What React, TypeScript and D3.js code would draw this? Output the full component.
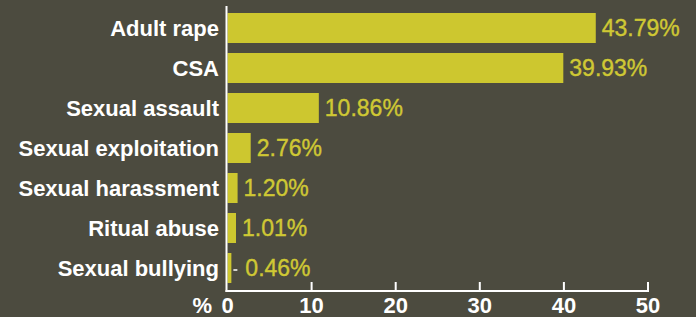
import React, { useRef, useEffect } from "react";
import * as d3 from "d3";

// data
const categories = [
  "Adult rape",
  "CSA",
  "Sexual assault",
  "Sexual exploitation",
  "Sexual harassment",
  "Ritual abuse",
  "Sexual bullying",
];
const values = [43.79, 39.93, 10.86, 2.76, 1.2, 1.01, 0.46];
const xTicks = [0, 10, 20, 30, 40, 50];

const App = () => {
  const svgRef = useRef<SVGSVGElement>(null);

  useEffect(() => {
    const width = 696;
    const height = 317;
    const svg = d3.select(svgRef.current);
    svg.selectAll("*").remove();
    svg.attr("width", width).attr("height", height);

    const font = "'Liberation Sans', Arial, Helvetica, sans-serif";

    svg
      .append("rect")
      .attr("width", width)
      .attr("height", height)
      .attr("fill", "#4c4b3f");

    const x = d3.scaleLinear().domain([0, 50]).range([227.5, 648]);
    const y = d3
      .scaleBand()
      .domain(categories)
      .range([8, 288])
      .paddingInner(0.25)
      .paddingOuter(0.125);

    const axisY = 291;

    // bars
    svg
      .selectAll(".bar")
      .data(values)
      .enter()
      .append("rect")
      .attr("class", "bar")
      .attr("x", x(0))
      .attr("y", (d, i) => y(categories[i])!)
      .attr("width", (d) => x(d) - x(0))
      .attr("height", y.bandwidth())
      .attr("fill", "#cdc72f");

    // small leader for the tiniest bar
    svg
      .selectAll(".lead")
      .data(values.filter((d) => d < 1))
      .enter()
      .append("line")
      .attr("x1", (d) => x(d) + 2)
      .attr("x2", (d) => x(d) + 6)
      .attr("y1", (d) => y(categories[values.indexOf(d)])! + y.bandwidth() / 2 + 2)
      .attr("y2", (d) => y(categories[values.indexOf(d)])! + y.bandwidth() / 2 + 2)
      .attr("stroke", "#ffffff")
      .attr("stroke-width", 1.5);

    // value labels
    svg
      .selectAll(".val")
      .data(values)
      .enter()
      .append("text")
      .attr("x", (d) => x(d) + (d < 1 ? 14 : 6))
      .attr("y", (d, i) => y(categories[i])! + y.bandwidth() / 2 + 8)
      .attr("fill", "#cfc834")
      .attr("font-family", font)
      .attr("font-size", 23)
      .attr("stroke", "#cfc834")
      .attr("stroke-width", 0.4)
      .text((d) => d.toFixed(2) + "%");

    // category labels
    svg
      .selectAll(".cat")
      .data(categories)
      .enter()
      .append("text")
      .attr("x", 219)
      .attr("y", (d) => y(d)! + y.bandwidth() / 2 + 8)
      .attr("text-anchor", "end")
      .attr("fill", "#ffffff")
      .attr("font-family", font)
      .attr("font-weight", "bold")
      .attr("font-size", 22)
      .text((d) => d);

    // axes
    svg
      .append("line")
      .attr("x1", x(0) - 1)
      .attr("x2", x(0) - 1)
      .attr("y1", 6)
      .attr("y2", axisY + 1)
      .attr("stroke", "#ffffff")
      .attr("stroke-width", 2);

    svg
      .append("line")
      .attr("x1", x(0) - 2)
      .attr("x2", x(50) + 1)
      .attr("y1", axisY)
      .attr("y2", axisY)
      .attr("stroke", "#ffffff")
      .attr("stroke-width", 2);

    svg
      .selectAll(".tick")
      .data(xTicks.slice(1))
      .enter()
      .append("line")
      .attr("x1", (d) => x(d))
      .attr("x2", (d) => x(d))
      .attr("y1", axisY - 9)
      .attr("y2", axisY)
      .attr("stroke", "#ffffff")
      .attr("stroke-width", 2);

    svg
      .selectAll(".tlab")
      .data(xTicks)
      .enter()
      .append("text")
      .attr("x", (d) => x(d))
      .attr("y", 313)
      .attr("text-anchor", "middle")
      .attr("fill", "#ffffff")
      .attr("font-family", font)
      .attr("font-weight", "bold")
      .attr("font-size", 22)
      .text((d) => d);

    svg
      .append("text")
      .attr("x", 212)
      .attr("y", 313)
      .attr("text-anchor", "end")
      .attr("fill", "#ffffff")
      .attr("font-family", font)
      .attr("font-weight", "bold")
      .attr("font-size", 22)
      .text("%");
  }, []);

  return (
    <div style={{ position: "fixed", left: 0, top: 0 }}>
      <svg ref={svgRef} style={{ display: "block" }}></svg>
    </div>
  );
};

export default App;
